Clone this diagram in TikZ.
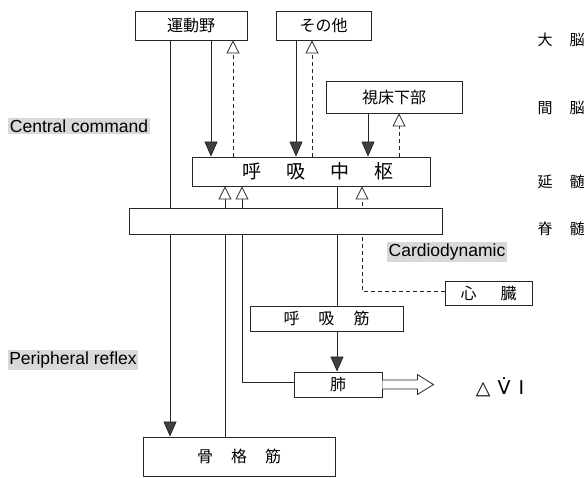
\documentclass[tikz,border=0pt]{standalone}
\usepackage{fontspec}
\setmainfont{Liberation Sans}
\newfontfamily\jp{Noto Sans CJK JP}
\newfontfamily\dvs{DejaVu Sans}
\usetikzlibrary{arrows.meta,backgrounds}
\begin{document}
\begin{tikzpicture}[x=1pt,y=-1pt,
  box/.style={draw=black!85, line width=0.9pt, fill=white, inner sep=0pt,
    font=\jp\fontsize{16}{16}\selectfont},
  ln/.style={draw=black!85, line width=0.8pt},
  fa/.style={ln, -{Triangle[width=13pt,length=15pt,fill=black!75]}},
  oa/.style={ln, dashed, dash pattern=on 4pt off 3pt, -{Triangle[open,width=13pt,length=13pt,fill=white]}},
  os/.style={ln, -{Triangle[open,width=13pt,length=13pt,fill=white]}},
  lab/.style={fill=black!15, inner sep=1.5pt, font=\fontsize{17.5}{18}\selectfont},
  side/.style={font=\jp\fontsize{15}{15}\selectfont, inner sep=0pt}]
\useasboundingbox (0,0) rectangle (585,477);

% boxes
\node[box, minimum width=112pt, minimum height=29pt] (mot) at (191,25.5) {運動野};
\node[box, minimum width=95pt, minimum height=29pt] (oth) at (323.5,25.5) {その他};
\node[box, minimum width=136pt, minimum height=32pt] (hyp) at (394,97) {視床下部};
\node[box, minimum width=238pt, minimum height=29pt, font=\jp\fontsize{19}{19}\selectfont] (rc) at (311,171.5)
  {\hspace{14pt}呼\hspace{25pt}吸\hspace{25pt}中\hspace{25pt}枢};
\node[box, minimum width=313pt, minimum height=26pt] (bar) at (285.5,221) {};
\node[box, minimum width=87pt, minimum height=24pt] (heart) at (488.5,293) {心\hspace{24pt}臓};
\node[box, minimum width=153pt, minimum height=25pt] (rm) at (326.5,318.5) {呼\hspace{19pt}吸\hspace{19pt}筋};
\node[box, minimum width=88pt, minimum height=25pt] (lung) at (338,384.5) {肺};
\node[box, minimum width=192pt, minimum height=39pt] (sk) at (239,456.5) {骨\hspace{18pt}格\hspace{18pt}筋};

% x positions of vertical connectors
\coordinate (c170) at (170,0);
\coordinate (c211) at (211,0);
\coordinate (c225) at (225,0);
\coordinate (c233) at (233,0);
\coordinate (c242) at (242,0);
\coordinate (c296) at (296,0);
\coordinate (c312) at (312,0);
\coordinate (c337) at (337,0);
\coordinate (c362) at (362,0);
\coordinate (c368) at (368,0);
\coordinate (c399) at (399,0);

\begin{scope}[on background layer]
\draw[fa] (mot.south -| c170) -- (sk.north -| c170);
\draw[fa] (mot.south -| c211) -- (rc.north -| c211);
\draw[oa] (rc.north -| c233) -- (mot.south -| c233);
\draw[fa] (oth.south -| c296) -- (rc.north -| c296);
\draw[oa] (rc.north -| c312) -- (oth.south -| c312);
\draw[fa] (hyp.south -| c368) -- (rc.north -| c368);
\draw[oa] (rc.north -| c399) -- (hyp.south -| c399);
\draw[os] (sk.north -| c225) -- (rc.south -| c225);
\draw[os] ([yshift=2.5pt]lung.west) -| (rc.south -| c242);
\draw[ln] (rc.south -| c337) -- (rm.north -| c337);
\draw[fa] (rm.south -| c337) -- (lung.north -| c337);
\draw[oa] ([yshift=2pt]heart.west) -| (rc.south -| c362);
\end{scope}

% hollow output arrow
\draw[ln, fill=white] (lung.east) ++(0,-4.5) -- ++(35,0) -- ++(0,-5.5) -- ++(16,10)
  -- ++(-16,10) -- ++(0,-5.5) -- ++(-35,0);
\node[inner sep=0pt, font=\dvs\fontsize{19}{19}\selectfont] (dv) at (500,387) {△\hspace{7pt}V̇\hspace{8pt}I};

% side labels
\node[lab] (cc) at (79,126) {Central command};
\node[lab] (pr) at (73,360) {Peripheral reflex};
\node[lab] (cd) at (447,252) {Cardiodynamic};

\node[side] (s1) at (561,40) {大\hspace{17pt}脳};
\node[side] (s2) at (561,108) {間\hspace{17pt}脳};
\node[side] (s3) at (561,182) {延\hspace{17pt}髄};
\node[side] (s4) at (561,229) {脊\hspace{17pt}髄};
\end{tikzpicture}
\end{document}
